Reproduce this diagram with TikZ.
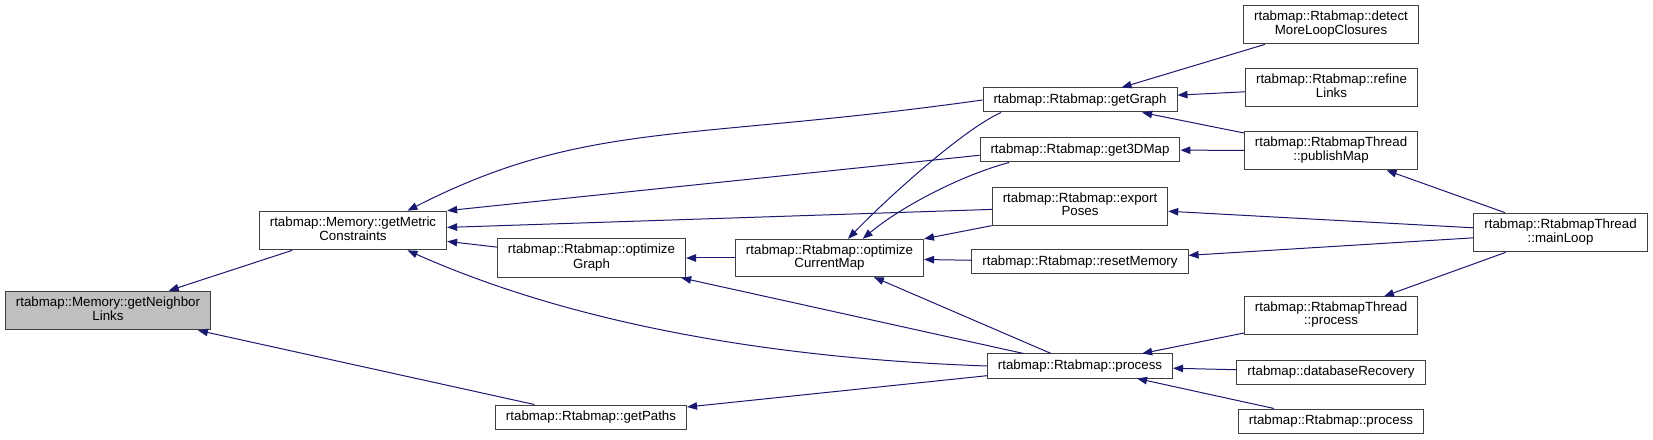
\documentclass[tikz,border=0pt]{standalone}
\usepackage{fontspec}
\setmainfont{Liberation Sans}
\usetikzlibrary{arrows.meta}
\definecolor{edgeblue}{HTML}{191970}
\newcommand{\twoln}[2]{\strut#1\\\strut#2}
\tikzset{
            focus/.style={fill=black!25},
            call/.style={draw=edgeblue, line width=1pt, <-}
        }

\begin{document}
\begin{tikzpicture}[
                    x=1pt, y=1pt,
                    every node/.style={draw=black!75, line width=1pt, fill=white, align=center,
                        inner xsep=10.5pt, inner ysep=5.2pt, minimum height=24pt,
                        font=\fontsize{13.3}{13.3}\selectfont},
                    >={Triangle[length=10pt,width=7.5pt]}
                    ]
                \useasboundingbox (0,0) rectangle (1653,439);
                \node[focus] (nbr) at (108,128.5) {\twoln{rtabmap::Memory::getNeighbor}{Links}};
                \node (metric) at (353,208.5) {\twoln{rtabmap::Memory::getMetric}{Constraints}};
                \node (optgraph) at (591.5,181) {\twoln{rtabmap::Rtabmap::optimize}{Graph}};
                \node (optmap) at (829.5,181) {\twoln{rtabmap::Rtabmap::optimize}{CurrentMap}};
                \node (paths) at (591,22) {rtabmap::Rtabmap::getPaths};
                \node (graph) at (1080,339) {rtabmap::Rtabmap::getGraph};
                \node (map3d) at (1080,289) {rtabmap::Rtabmap::get3DMap};
                \node (poses) at (1080,232.5) {\twoln{rtabmap::Rtabmap::export}{Poses}};
                \node (reset) at (1080,177) {rtabmap::Rtabmap::resetMemory};
                \node (proc) at (1080,73) {rtabmap::Rtabmap::process};
                \node (detect) at (1331,414.5) {\twoln{rtabmap::Rtabmap::detect}{MoreLoopClosures}};
                \node (refine) at (1331.5,351.5) {\twoln{rtabmap::Rtabmap::refine}{Links}};
                \node (publish) at (1331,288.5) {\twoln{rtabmap::RtabmapThread}{::publishMap}};
                \node (thproc) at (1331,123.5) {\twoln{rtabmap::RtabmapThread}{::process}};
                \node (dbrec) at (1331,67) {rtabmap::databaseRecovery};
                \node (proc2) at (1331,18) {rtabmap::Rtabmap::process};
                \node (mainloop) at (1560.5,206.5) {\twoln{rtabmap::RtabmapThread}{::mainLoop}};

                \draw[call] (nbr) -- (metric);
                \draw[call] (nbr) -- (paths);
                \draw[call] (metric.20) .. controls +(27:200) and +(188:300) .. (graph.west);
                \draw[call] (metric.north east) -- (map3d.183);
                \draw[call] (metric) -- (poses);
                \draw[call] (metric) -- (optgraph);
                \draw[call] (metric.-20) .. controls +(-24:140) and +(178:270) .. (proc.west);
                \draw[call] (optgraph) -- (optmap);
                \draw[call] (optgraph) -- (proc);
                \draw[call] (optmap.46) .. controls +(46:60) and +(204:40) .. (graph.189);
                \draw[call] (optmap.30) .. controls +(40:50) and +(195:50) .. (map3d.190);
                \draw[call] (optmap.north east) -- (poses.south west);
                \draw[call] (optmap) -- (reset);
                \draw[call] (optmap) -- (proc);
                \draw[call] (paths) -- (proc);
                \draw[call] (graph) -- (detect);
                \draw[call] (graph) -- (refine);
                \draw[call] (graph) -- (publish);
                \draw[call] (map3d) -- (publish);
                \draw[call] (publish) -- (mainloop);
                \draw[call] (poses) -- (mainloop);
                \draw[call] (reset) -- (mainloop);
                \draw[call] (thproc) -- (mainloop);
                \draw[call] (proc) -- (thproc);
                \draw[call] (proc) -- (dbrec);
                \draw[call] (proc) -- (proc2);
            \end{tikzpicture}
\end{document}
